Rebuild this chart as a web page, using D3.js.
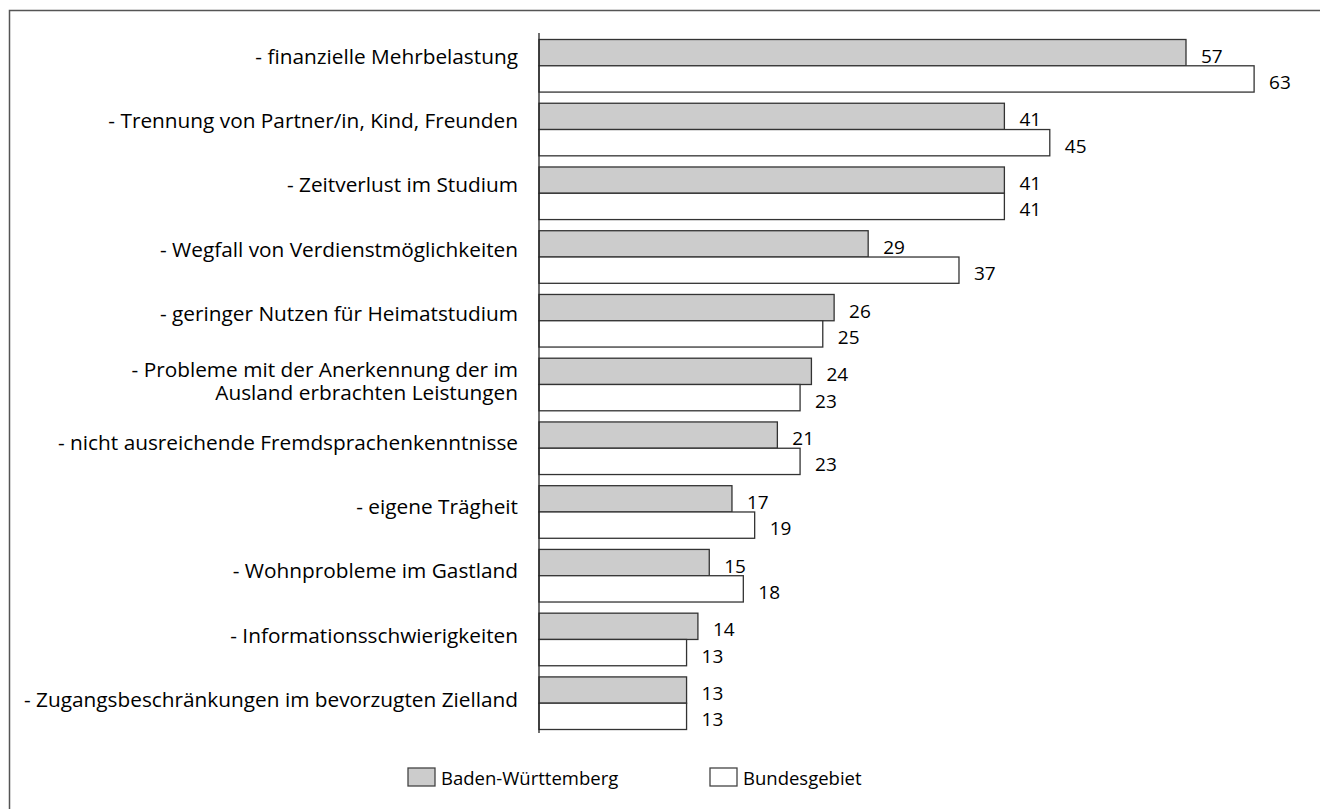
<!DOCTYPE html>
<html>
<head>
<meta charset="utf-8">
<script src="https://cdn.jsdelivr.net/npm/d3@7/dist/d3.min.js"></script>
<style>
  body { margin: 0; background: #fff; }
  text { font-family: "Open Sans", "Noto Sans", sans-serif; fill: #000; }
</style>
</head>
<body>
<div id="chart"></div>
<script>
// Kategorien (von oben nach unten)
var categories = [
    ["- finanzielle Mehrbelastung"],
    ["- Trennung von Partner/in, Kind, Freunden"],
    ["- Zeitverlust im Studium"],
    ["- Wegfall von Verdienstmöglichkeiten"],
    ["- geringer Nutzen für Heimatstudium"],
    ["- Probleme mit der Anerkennung der im", "Ausland erbrachten Leistungen"],
    ["- nicht ausreichende Fremdsprachenkenntnisse"],
    ["- eigene Trägheit"],
    ["- Wohnprobleme im Gastland"],
    ["- Informationsschwierigkeiten"],
    ["- Zugangsbeschränkungen im bevorzugten Zielland"]
];
var seriesNames = ["Baden-Württemberg", "Bundesgebiet"];
var bwValues = [57, 41, 41, 29, 26, 24, 21, 17, 15, 14, 13];
var bundValues = [63, 45, 41, 37, 25, 23, 23, 19, 18, 13, 13];
var seriesColors = ["#cccccc", "#ffffff"];

var width = 1320, height = 809;
var svg = d3.select("#chart").append("svg")
    .attr("width", width)
    .attr("height", height);

// Rahmen (rechts/unten ausserhalb des Bildes)
svg.append("rect")
    .attr("x", 9.5).attr("y", 10.5)
    .attr("width", width + 20).attr("height", height + 20)
    .attr("fill", "none")
    .attr("stroke", "#555")
    .attr("stroke-width", 1.5);

var x = d3.scaleLinear().domain([0, 57]).range([539, 1186]);
var y = d3.scaleBand()
    .domain(d3.range(categories.length))
    .range([39.5, 729.5])
    .paddingInner(0.175).paddingOuter(0);
var barH = y.bandwidth() / 2;
// Grundlinien der Kategorientexte (etwas anders verteilt als die Balken)
var yLabel = d3.scalePoint()
    .domain(d3.range(categories.length))
    .range([63.5, 707]);

var groups = svg.append("g").selectAll("g")
    .data(categories)
    .enter().append("g");

// Balken
[bwValues, bundValues].forEach(function (vals, s) {
    svg.append("g").selectAll("rect")
        .data(vals)
        .enter().append("rect")
        .attr("x", x(0))
        .attr("y", function (d, i) { return y(i) + s * barH; })
        .attr("width", function (d) { return x(d) - x(0); })
        .attr("height", barH)
        .attr("fill", seriesColors[s])
        .attr("stroke", "#333")
        .attr("stroke-width", 1.3);
    // Werte
    svg.append("g").selectAll("text")
        .data(vals)
        .enter().append("text")
        .attr("x", function (d) { return x(d) + 15; })
        .attr("y", function (d, i) { return y(i) + s * barH + barH / 2 + 10; })
        .style("font-size", "19px")
        .text(function (d) { return d; });
});

// Achsenlinie
svg.append("line")
    .attr("x1", x(0)).attr("x2", x(0))
    .attr("y1", 33).attr("y2", 733)
    .attr("stroke", "#222").attr("stroke-width", 1.3);

// Kategorienbeschriftung
groups.each(function (lines, i) {
    var t = d3.select(this).append("text")
        .attr("text-anchor", "end")
        .style("font-size", "20.8px");
    var lh = 23;
    lines.forEach(function (l, j) {
        t.append("tspan")
            .attr("x", 518)
            .attr("y", yLabel(i) + (lines.length > 1 ? 3 : 0) + (j - (lines.length - 1) / 2) * lh)
            .text(l);
    });
});

// Legende
var legendX = [408, 710];
seriesNames.forEach(function (name, s) {
    svg.append("rect")
        .attr("x", legendX[s]).attr("y", 768)
        .attr("width", 27).attr("height", 18)
        .attr("fill", seriesColors[s])
        .attr("stroke", "#444").attr("stroke-width", 1.3);
    svg.append("text")
        .attr("x", legendX[s] + 33).attr("y", 785)
        .style("font-size", "18.5px")
        .text(name);
});
</script>
</body>
</html>
